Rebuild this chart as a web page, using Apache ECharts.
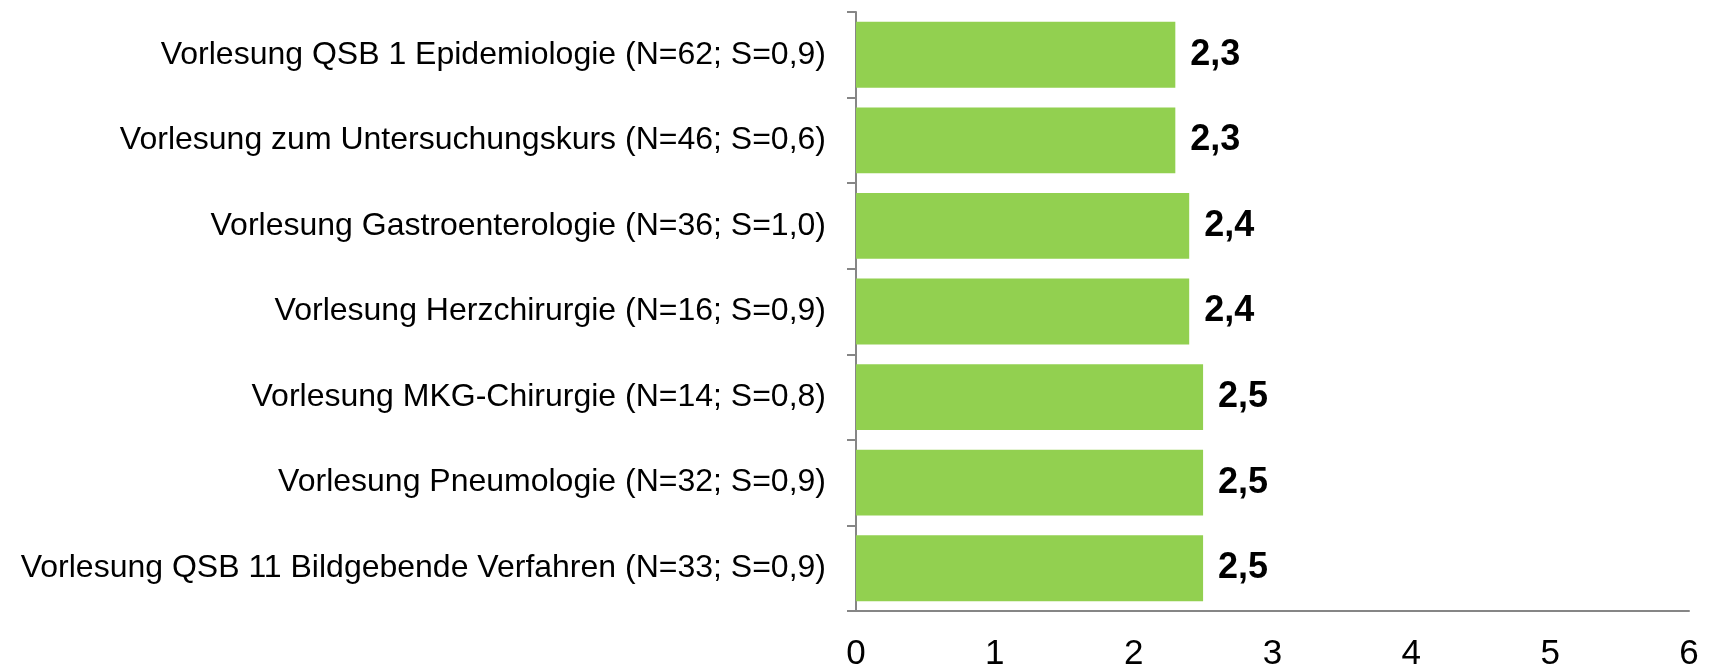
<!DOCTYPE html>
<html>
<head>
<meta charset="utf-8">
<script src="https://cdn.jsdelivr.net/npm/echarts@6/dist/echarts.min.js"></script>
<style>
html,body{margin:0;padding:0;background:#fff;}
#chart{width:1709px;height:670px;}
</style>
</head>
<body>
<div id="chart"></div>
<script>
const categories = [
  'Vorlesung QSB 1 Epidemiologie (N=62; S=0,9)',
  'Vorlesung zum Untersuchungskurs (N=46; S=0,6)',
  'Vorlesung Gastroenterologie (N=36; S=1,0)',
  'Vorlesung Herzchirurgie (N=16; S=0,9)',
  'Vorlesung MKG-Chirurgie (N=14; S=0,8)',
  'Vorlesung Pneumologie (N=32; S=0,9)',
  'Vorlesung QSB 11 Bildgebende Verfahren (N=33; S=0,9)'
];
const values = [2.3, 2.3, 2.4, 2.4, 2.5, 2.5, 2.5];
const xMin = 0, xMax = 6, xStep = 1;

const chart = echarts.init(document.getElementById('chart'));
chart.setOption({
  animation: false,
  grid: {left: 856, right: 20, top: 12, bottom: 59, containLabel: false, outerBoundsMode: 'none'},
  xAxis: {
    type: 'value', min: xMin, max: xMax, interval: xStep,
    axisLine: {show: true, lineStyle: {color: '#868686', width: 2}},
    axisTick: {show: false},
    splitLine: {show: false},
    axisLabel: {color: '#000', fontFamily: 'Liberation Sans, Arial, sans-serif', fontSize: 35, margin: 26}
  },
  yAxis: {
    type: 'category', data: categories, inverse: true,
    axisLine: {show: true, lineStyle: {color: '#868686', width: 2}},
    axisTick: {show: true, length: 9, lineStyle: {color: '#868686', width: 2}},
    axisLabel: {color: '#000', fontFamily: 'Liberation Sans, Arial, sans-serif', fontSize: 32, margin: 30}
  },
  series: [{
    type: 'bar', data: values, barCategoryGap: '23%',
    itemStyle: {color: '#92D050'},
    label: {
      show: true, position: 'right', distance: 15,
      color: '#000', fontWeight: 'bold', fontSize: 36,
      fontFamily: 'Liberation Sans, Arial, sans-serif',
      formatter: p => p.value.toFixed(1).replace('.', ',')
    }
  }]
});
</script>
</body>
</html>
